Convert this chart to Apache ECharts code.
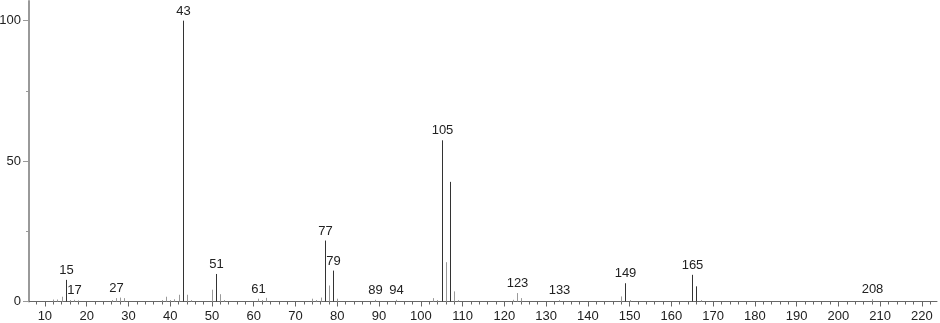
<!DOCTYPE html>
<html><head><meta charset="utf-8">
<script src="https://cdn.jsdelivr.net/npm/echarts@6/dist/echarts.min.js"></script>
<style>html,body{margin:0;padding:0;background:#fff}#c{width:940px;height:323px}</style>
</head><body><div id="c"></div>
<script>
// m/z values of the peaks
const mzValues = [12,13,14,15,16,17,18,26,27,28,29,38,39,40,41,42,43,44,45,50,51,52,53,61,62,63,74,75,76,77,78,79,80,89,94,103,104,105,106,107,108,109,122,123,124,133,148,149,150,165,166,167,208];
// relative intensities (%)
const intensities = [0.7,0.7,1.7,7.7,0.5,0.6,0.4,0.5,1.2,1.4,1.2,0.5,1.7,0.5,0.8,2.4,100,2.4,0.5,4.2,9.8,2.6,0.5,1.0,0.5,1.3,1.0,0.5,1.4,21.7,5.7,11.0,1.0,0.6,0.6,1.2,0.5,57.4,14.0,42.6,3.6,0.5,0.6,3.0,1.2,0.5,1.8,6.5,0.5,9.5,5.4,0.5,0.8];
// peaks drawn dark
const darkPeaks = [15,43,51,77,79,105,107,149,165,166];
// peaks with an m/z label
const labeledPeaks = [15,17,27,43,51,61,77,79,89,94,105,123,133,149,165,208];
// axis ticks
const xTickLabels = [10,20,30,40,50,60,70,80,90,100,110,120,130,140,150,160,170,180,190,200,210,220];
const xMinorTicks = [];
for (let v = 8; v <= 222; v += 2) if (v % 10 !== 0) xMinorTicks.push(v);
const yTickLabels = [0,50,100];
const yMinorTicks = [25,75];

const X_MIN = 6.2, X_MAX = 223.6, Y_MAX = 107;
const FONT = 'Liberation Sans, Arial, sans-serif';

const data = mzValues.map((m, i) => [m, intensities[i], darkPeaks.includes(m) ? 1 : 0, labeledPeaks.includes(m) ? 1 : 0]);

const chart = echarts.init(document.getElementById('c'), null, {renderer: 'canvas'});
chart.setOption({
  animation: false,
  backgroundColor: '#fff',
  grid: {left: 29, right: 3, top: 1, bottom: 21.5, containLabel: false, outerBoundsMode: 'none'},
  xAxis: [
    {type: 'value', min: X_MIN, max: X_MAX, position: 'bottom',
     axisLine: {show: true, onZero: false, lineStyle: {color: '#666', width: 1}},
     axisTick: {show: true, customValues: xTickLabels, length: 5, lineStyle: {color: '#666'}},
     axisLabel: {show: true, customValues: xTickLabels, margin: 8, fontSize: 13, color: '#222', fontFamily: FONT},
     splitLine: {show: false}},
    {type: 'value', min: X_MIN, max: X_MAX, position: 'bottom',
     axisLine: {show: false, onZero: false},
     axisTick: {show: true, customValues: xMinorTicks, length: 3, lineStyle: {color: '#666'}},
     axisLabel: {show: false},
     splitLine: {show: false}}
  ],
  yAxis: [
    {type: 'value', min: 0, max: Y_MAX, position: 'left',
     axisLine: {show: true, onZero: false, lineStyle: {color: '#999', width: 2}},
     axisTick: {show: true, customValues: yTickLabels, length: 6, lineStyle: {color: '#999'}},
     axisLabel: {show: true, customValues: yTickLabels, margin: 8, fontSize: 13, color: '#222', fontFamily: FONT},
     splitLine: {show: false}},
    {type: 'value', min: 0, max: Y_MAX, position: 'left',
     axisLine: {show: false, onZero: false},
     axisTick: {show: true, customValues: yMinorTicks, length: 3, lineStyle: {color: '#999'}},
     axisLabel: {show: false},
     splitLine: {show: false}}
  ],
  series: [{
    type: 'custom',
    xAxisIndex: 0, yAxisIndex: 0,
    clip: false,
    encode: {x: 0, y: 1},
    data: data,
    renderItem: function (params, api) {
      const x = api.value(0), y = api.value(1);
      const base = api.coord([x, 0]);
      const top = api.coord([x, y]);
      const px = Math.round(base[0]) + 0.5;
      const children = [{
        type: 'line',
        shape: {x1: px, y1: base[1], x2: px, y2: top[1]},
        style: {stroke: api.value(2) ? '#333' : '#9a9a9a', lineWidth: 1}
      }];
      if (api.value(3)) {
        children.push({
          type: 'text', x: px, y: top[1] - 3,
          style: {text: String(x), align: 'center', verticalAlign: 'bottom', fill: '#222', font: '13px ' + FONT}
        });
      }
      return {type: 'group', children: children};
    }
  }]
});
</script>
</body></html>
